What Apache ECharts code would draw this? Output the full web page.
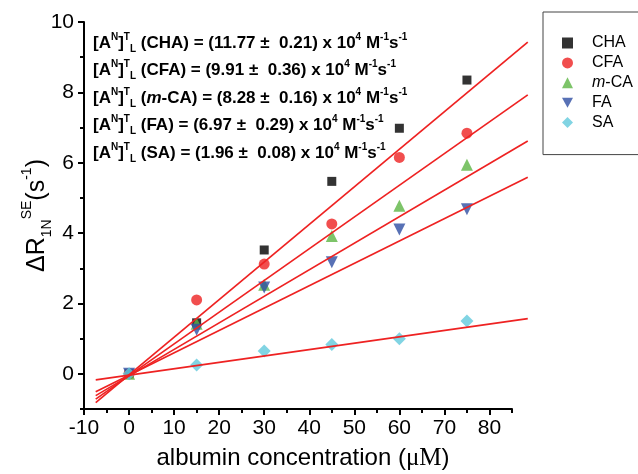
<!DOCTYPE html>
<html>
<head>
<meta charset="utf-8">
<script src="https://cdn.jsdelivr.net/npm/echarts@6/dist/echarts.min.js"></script>
<style>
  html, body { margin: 0; padding: 0; background: #fff; }
  #chart { width: 638px; height: 474px; }
</style>
</head>
<body>
<div id="chart"></div>
<script>
// measured points
const concentrations = [0, 15, 30, 45, 60, 75]
const chaValues = [0, 1.45, 3.52, 5.47, 6.98, 8.35]
const cfaValues = [0, 2.1, 3.12, 4.26, 6.15, 6.84]
const mcaValues = [0, 1.42, 2.53, 3.92, 4.78, 5.94]
const faValues = [0, 1.25, 2.45, 3.17, 4.1, 4.68]
const saValues = [0, 0.25, 0.65, 0.83, 1.0, 1.5]

// fitted lines at both ends
const fitX = [-7.4, 88.5]
const fitCha = [-0.82, 9.43]
const fitCfa = [-0.72, 7.93]
const fitMca = [-0.62, 6.62]
const fitFa = [-0.51, 5.59]
const fitSa = [-0.17, 1.57]

const seriesNames = ['CHA', 'CFA', 'm-CA', 'FA', 'SA']
const rateValues = ['11.77', '9.91', '8.28', '6.97', '1.96']
const rateErrors = ['0.21', '0.36', '0.16', '0.29', '0.08']

const xMajorTicks = [-10, 0, 10, 20, 30, 40, 50, 60, 70, 80]
const xMinorTicks = [-5, 5, 15, 25, 35, 45, 55, 65, 75, 85]
const yMajorTicks = [0, 2, 4, 6, 8, 10]
const yMinorTicks = [-1, 1, 3, 5, 7, 9]

const FONT = 'Liberation Sans, Arial, sans-serif'
const LINE_RED = '#ee2222'

const STYLES = [
  { symbol: 'rect', size: 9, color: '#000000' },
  { symbol: 'circle', size: 11, color: '#ee2222' },
  { symbol: 'triangle', size: 12, color: '#5db544' },
  { symbol: 'path://M0,0 L10,0 L5,9 Z', size: 12, color: '#2e4ea3' },
  { symbol: 'diamond', size: 13, color: '#62c9dc' }
]

// plot box of the axes; the fit lines run a bit past the right end of the x axis,
// so they sit on a second, wider grid with the same scale
const PLOT = { left: 84, right: 126, top: 22, bottom: 65, outerBoundsMode: 'none' }
const X_MIN = -10
const X_MAX = 85
const X_LINE_MAX = 88.6

function zip(xs, ys) {
  return xs.map((x, i) => [x, ys[i]])
}

function buildAnnotations() {
  return seriesNames.map((name, i) => {
    let label = name === 'm-CA' ? '{it|m}-CA' : name
    return {
      type: 'text',
      x: 93,
      y: 32 + i * 27.5,
      z: 100,
      style: {
        text: '[A{sup|N}]{sup|T}{sub|L} (' + label + ') = (' + rateValues[i] + ' \u00b1  ' +
          rateErrors[i] + ') x 10{sup|4} M{sup|-1}s{sup|-1}',
        fontFamily: FONT,
        fontSize: 17,
        fontWeight: 'bold',
        fill: '#000',
        lineHeight: 22,
        rich: {
          sup: { fontSize: 10, fontWeight: 'bold', verticalAlign: 'top', lineHeight: 12 },
          sub: { fontSize: 10, fontWeight: 'bold', verticalAlign: 'bottom', lineHeight: 10 },
          it: { fontSize: 17, fontWeight: 'bold', fontStyle: 'italic' }
        }
      }
    }
  })
}

function hiddenAxis(extra) {
  return Object.assign({
    type: 'value',
    show: false,
    axisLine: { show: false },
    axisTick: { show: false },
    axisLabel: { show: false },
    splitLine: { show: false }
  }, extra)
}

function buildOption() {
  let pointSets = [chaValues, cfaValues, mcaValues, faValues, saValues]
  let fitSets = [fitCha, fitCfa, fitMca, fitFa, fitSa]

  let plotWidth = 638 - PLOT.left - PLOT.right
  let pxPerUnit = plotWidth / (X_MAX - X_MIN)
  let lineGridRight = 638 - PLOT.left - (X_LINE_MAX - X_MIN) * pxPerUnit

  let scatterSeries = seriesNames.map((name, i) => ({
    name: name,
    type: 'scatter',
    symbol: STYLES[i].symbol,
    symbolSize: STYLES[i].size,
    itemStyle: { color: STYLES[i].color },
    data: zip(concentrations, pointSets[i]),
    z: 2
  }))

  let fitSeries = fitSets.map((ys, i) => ({
    name: 'fit-' + seriesNames[i],
    type: 'line',
    xAxisIndex: 2,
    yAxisIndex: 2,
    data: zip(fitX, ys),
    showSymbol: false,
    silent: true,
    lineStyle: { color: LINE_RED, width: 1.7 },
    z: 3
  }))

  let tickLabel = { color: '#000', fontSize: 21, fontFamily: FONT }

  return {
    backgroundColor: '#fff',
    animation: false,
    grid: [
      PLOT,
      {
        left: PLOT.left,
        right: lineGridRight,
        top: PLOT.top,
        bottom: PLOT.bottom,
        outerBoundsMode: 'none'
      }
    ],
    legend: {
      data: seriesNames,
      orient: 'vertical',
      left: 543,
      top: 12,
      itemWidth: 11,
      itemHeight: 11,
      itemGap: 3.9,
      padding: [23, 30, 24, 19],
      borderColor: '#444',
      borderWidth: 1,
      textStyle: {
        color: '#000',
        fontSize: 16,
        fontFamily: FONT,
        lineHeight: 16,
        padding: [0, 0, 0, 14],
        rich: { it: { fontStyle: 'italic', fontSize: 16, fontFamily: FONT } }
      },
      formatter: name => (name === 'm-CA' ? '{it|m}-CA' : name)
    },
    xAxis: [
      {
        type: 'value',
        min: X_MIN,
        max: X_MAX,
        name: 'albumin concentration ({mu|\u03bcM})',
        nameLocation: 'middle',
        nameGap: 37,
        nameMoveOverlap: false,
        nameTextStyle: {
          color: '#000',
          fontSize: 24,
          fontFamily: FONT,
          padding: [0, 0, 0, 10],
          rich: { mu: { fontSize: 25, fontFamily: 'Liberation Serif, Times New Roman, serif' } }
        },
        axisLine: { onZero: false, lineStyle: { color: '#000', width: 2 } },
        axisTick: { length: 6, lineStyle: { width: 2 }, customValues: xMajorTicks },
        axisLabel: Object.assign({ margin: 9, customValues: xMajorTicks }, tickLabel),
        splitLine: { show: false }
      },
      {
        type: 'value',
        min: X_MIN,
        max: X_MAX,
        position: 'bottom',
        axisLine: { show: false, onZero: false },
        axisTick: { length: 4, lineStyle: { width: 2, color: '#000' }, customValues: xMinorTicks },
        axisLabel: { show: false },
        splitLine: { show: false }
      },
      hiddenAxis({ gridIndex: 1, min: X_MIN, max: X_LINE_MAX })
    ],
    yAxis: [
      {
        type: 'value',
        min: -1,
        max: 10,
        name: '\u0394R{sub|1N}{sup|SE}(s{sup|-1})',
        nameLocation: 'middle',
        nameGap: 30,
        nameMoveOverlap: false,
        nameRotate: 90,
        nameTextStyle: {
          color: '#000',
          fontSize: 25,
          fontFamily: FONT,
          lineHeight: 34,
          rich: {
            sub: { fontSize: 14, fontFamily: FONT, verticalAlign: 'bottom', lineHeight: 14 },
            sup: { fontSize: 14, fontFamily: FONT, verticalAlign: 'top', lineHeight: 14 }
          }
        },
        axisLine: { onZero: false, lineStyle: { color: '#000', width: 2 } },
        axisTick: { length: 6, lineStyle: { width: 2 }, customValues: yMajorTicks },
        axisLabel: Object.assign({ margin: 10, customValues: yMajorTicks }, tickLabel),
        splitLine: { show: false }
      },
      {
        type: 'value',
        min: -1,
        max: 10,
        position: 'left',
        axisLine: { show: false, onZero: false },
        axisTick: { length: 4, lineStyle: { width: 2, color: '#000' }, customValues: yMinorTicks },
        axisLabel: { show: false },
        splitLine: { show: false }
      },
      hiddenAxis({ gridIndex: 1, min: -1, max: 10 })
    ],
    graphic: buildAnnotations(),
    series: scatterSeries.concat(fitSeries)
  }
}

let chart = echarts.init(document.getElementById('chart'), null, { renderer: 'canvas' })
chart.setOption(buildOption())
</script>
</body>
</html>
